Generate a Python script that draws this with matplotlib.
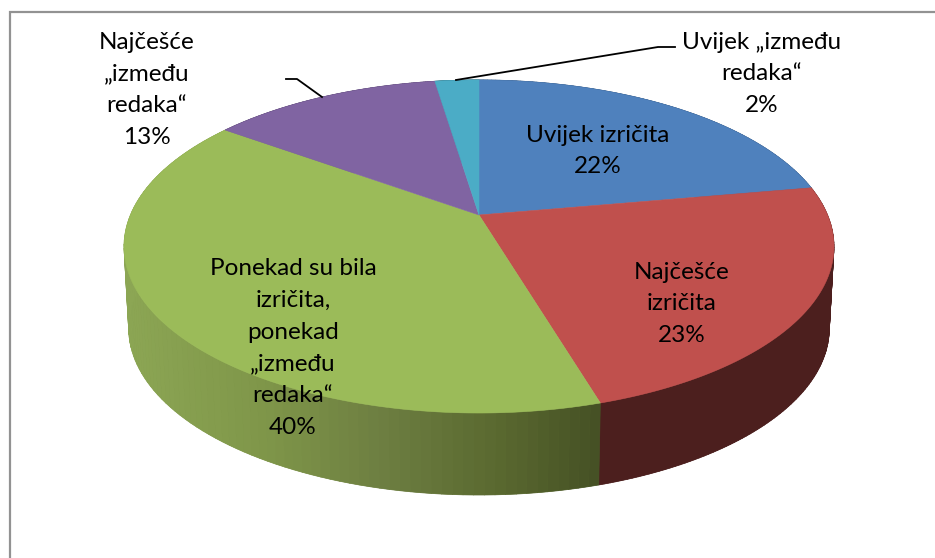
import numpy as np
import matplotlib
matplotlib.use("Agg")
import matplotlib.pyplot as plt
from matplotlib.collections import PolyCollection
from matplotlib.colors import LinearSegmentedColormap

# ---- data ----
categories = ["Uvijek izričita", "Najčešće\nizričita",
              "Ponekad su bila\nizričita,\nponekad\n„između\nredaka“",
              "Najčešće\n„između\nredaka“", "Uvijek „između\nredaka“"]
values = [22.2, 23.2, 39.6, 12.6, 2.4]
top_colors = ["#4F81BD", "#C0504D", "#9BBB59", "#8064A2", "#4BACC6"]
label_centers = [(598, 151), (682, 304), (293, 348), (147, 90), (762, 74)]

# ---- projection of the pie disc ----
cx, k = 479.0, 0.189
a_top, b_top, cy_top = 348.6, 160.6, 215.0
a_bot, b_bot, cy_bot = 344.0, 160.6, 297.0


def project(theta, a, b, cy):
    x, y = np.sin(theta), -np.cos(theta)
    d = 1 - k * y
    return cx + a * x / d, cy + b * y / d


fig = plt.figure(figsize=(9.35, 5.58), dpi=100)
ax = fig.add_axes([0, 0, 1, 1])
ax.set_xlim(0, 935)
ax.set_ylim(558, 0)
ax.axis("off")
plt.rcParams["font.family"] = ["Lato", "DejaVu Sans"]

# chart frame (cut off at right and bottom)
ax.plot([10, 10, 935], [558, 11.5, 11.5], color="#929292", lw=1.6, solid_joinstyle="miter")

edges = np.deg2rad(np.concatenate([[0], np.cumsum(values)]) * 3.6)

wall_maps = [
    LinearSegmentedColormap.from_list("b", ["#2F4D71", "#2F4D71"]),
    LinearSegmentedColormap.from_list("r", ["#4C1F1E", "#4C1F1E"]),
    LinearSegmentedColormap.from_list("g", [(0, "#8CA654"), (0.30, "#7F9649"), (0.55, "#6D7E41"),
                                            (0.80, "#59682F"), (1, "#465125")]),
    LinearSegmentedColormap.from_list("p", ["#4C3C61", "#4C3C61"]),
    LinearSegmentedColormap.from_list("t", ["#2D6776", "#2D6776"]),
]

# side wall of every slice: a base shape, then thin quads shaded by horizontal position
for i in range(len(values)):
    t = np.linspace(edges[i], edges[i + 1], 100)
    xt, yt = project(t, a_top, b_top, cy_top)
    xb, yb = project(t, a_bot, b_bot, cy_bot)
    pos = (xt[:-1] - 125) / (602 - 125)
    cols = wall_maps[i](np.clip(pos, 0, 1))
    base = cols.mean(axis=0)
    ax.fill(np.r_[xt, xb[::-1]], np.r_[yt, yb[::-1]], color=base, lw=0, zorder=2)
    quads = [[(xt[j], yt[j]), (xt[j + 1], yt[j + 1]), (xb[j + 1], yb[j + 1]), (xb[j], yb[j])]
             for j in range(len(t) - 1)]
    ax.add_collection(PolyCollection(quads, facecolors=cols, edgecolors=cols, linewidths=0.5, zorder=2.1))

# top face of every slice
for i in range(len(values)):
    t = np.linspace(edges[i], edges[i + 1], 240)
    xt, yt = project(t, a_top, b_top, cy_top)
    ax.fill(np.r_[cx, xt], np.r_[cy_top, yt], color=top_colors[i], lw=0.4, zorder=3)

# leader lines
ax.plot([286, 297, 322], [79, 79, 97], color="black", lw=1.3, zorder=4)
ax.plot([675, 658, 456], [47, 47, 80], color="black", lw=1.3, zorder=4)

# labels
for name, v, (lx, ly) in zip(categories, values, label_centers):
    ax.text(lx, ly, f"{name}\n{round(v)}%", ha="center", va="center", ma="center",
            fontsize=17.5, linespacing=1.64, color="black", zorder=5)

fig.savefig("out.png", dpi=100)
